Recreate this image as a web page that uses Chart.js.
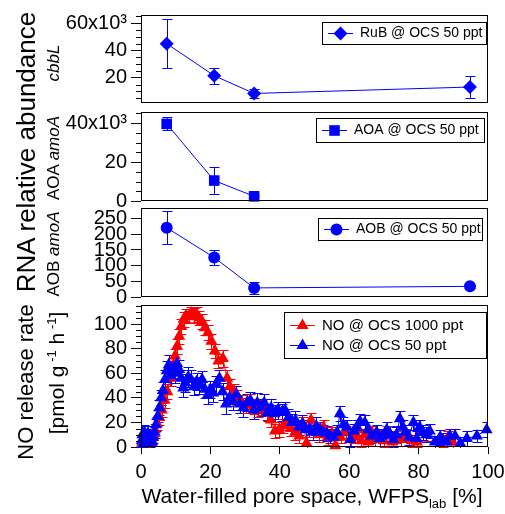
<!DOCTYPE html>
<html lang="en">
<head>
<meta charset="utf-8" />
<title>RNA abundance and NO release vs. WFPS</title>
<script src="https://cdn.jsdelivr.net/npm/chart.js@4.4.0/dist/chart.umd.min.js"></script>
<style>
  html, body { margin: 0; padding: 0; background: #fff; overflow: hidden; }
  #fig { position: relative; width: 505px; height: 514px; overflow: hidden;
         font-family: "Liberation Sans", Arial, Helvetica, sans-serif; color: #000; }
  #fig canvas { position: absolute; left: 0; }
  .lab { position: absolute; white-space: nowrap; line-height: 1;
         transform: translate(-50%, -50%) rotate(-90deg); }
  .xlab { position: absolute; white-space: nowrap; line-height: 1; transform: translate(-50%, -50%); }
  sup, sub { font-size: 0.62em; line-height: 0; }
</style>
</head>
<body>
<div id="fig">
  <canvas id="panelA" width="540" height="140" style="top:-10px"></canvas>
  <canvas id="panelB" width="540" height="140" style="top:85px"></canvas>
  <canvas id="panelC" width="540" height="140" style="top:180px"></canvas>
  <canvas id="panelD" width="540" height="234" style="top:280px"></canvas>

  <div class="lab" style="left:26px; top:152px; font-size:26px">RNA relative abundance</div>
  <div class="lab" style="left:53px; top:63px; font-size:17px"><i>cbbL</i></div>
  <div class="lab" style="left:53px; top:158px; font-size:17px">AOA <i>amoA</i></div>
  <div class="lab" style="left:53px; top:254px; font-size:17px">AOB <i>amoA</i></div>
  <div class="lab" style="left:26px; top:382px; font-size:22px">NO release rate</div>
  <div class="lab" style="left:56px; top:373px; font-size:21px">[pmol g<sup> -1</sup> h<sup> -1</sup>]</div>
  <div class="xlab" style="left:312px; top:495px; font-size:21px">Water-filled pore space, WFPS<sub>lab</sub> [%]</div>
</div>

<script>
// --- gene expression (panels a-c) ---
const wfpsGenes = [7.4, 21.1, 32.6, 94.8];
const cbbL = [45000, 21500, 8500, 13200];
const cbbLErr = [18000, 6000, 3000, 8000];

const wfpsAoa = [7.4, 21.1, 32.6];
const aoaAmoA = [39600, 10500, 2400];
const aoaAmoAErr = [3300, 7000, 600];

const aobAmoA = [221, 126, 29, 34];
const aobAmoAErr = [53, 25, 19, 5];

// --- NO release (panel d) ---
const wfpsNo1000 = [0.3, 0.7, 1.1, 1.5, 2.0, 2.5, 3.0, 3.5, 4.0, 4.6, 5.3, 6.0, 6.8, 7.6, 8.4, 9.2, 9.8,
  10.4, 11.0, 11.6, 12.3, 13.0, 13.8, 14.5, 15.2, 16.0, 16.8, 17.6, 18.4, 19.3, 20.3, 21.3, 22.3, 23.6,
  24.8, 25.6, 26.8, 27.8, 29.0, 30.2, 31.4, 32.6, 33.8, 35.0, 36.2, 37.4, 38.6, 39.8, 41.0, 42.0, 43.2,
  44.4, 45.6, 46.8, 47.7, 49.0, 50.2, 51.4, 52.6, 53.8, 55.0, 56.0, 57.5, 59.0, 60.5, 61.5, 62.5, 63.5,
  64.5, 65.5, 66.5, 67.5, 68.5, 70.0, 71.0, 72.5, 73.5, 75.0, 76.5, 78.0, 79.5, 87.0, 88.5, 89.8];
const no1000 = [3, 5, 2, 6, 4, 8, 6, 10, 14, 19, 24, 30, 38, 45, 56, 66, 74,
  82, 90, 98, 104, 107, 106, 109, 107, 108, 105, 102, 97, 93, 86, 78, 70, 72,
  56, 49, 45, 40, 36, 34, 37, 33, 30, 32, 28, 22, 13, 14, 17, 20, 15,
  12, 9, 18, 3, 22, 14, 10, 16, 8, 11, 1, 8, 12, 6, 8, 14, 5,
  10, 4, 12, 6, 9, 5, 12, 4, 8, 6, 10, 5, 4, 5, 8, 4];
const no1000Err = [3, 3, 3, 4, 3, 4, 4, 4, 5, 5, 6, 6, 6, 6, 6, 6, 6,
  6, 6, 6, 6, 5, 5, 5, 6, 6, 6, 6, 6, 6, 6, 6, 6, 7,
  7, 6, 6, 6, 6, 6, 6, 6, 6, 6, 6, 6, 6, 6, 6, 6, 6,
  6, 6, 6, 5, 6, 6, 6, 6, 6, 5, 5, 5, 5, 5, 5, 5, 5,
  5, 5, 5, 5, 5, 5, 5, 5, 5, 5, 5, 5, 4, 5, 5, 5];

const wfpsNo50 = [0.2, 0.4, 0.6, 0.8, 1.0, 1.2, 1.4, 1.6, 1.8, 2.0, 2.3, 2.6, 2.9, 3.2, 3.5, 3.9, 4.3,
  4.8, 5.3, 5.8, 6.3, 6.9, 7.4, 8.0, 8.6, 9.2, 9.8, 10.4, 11.0, 11.6, 12.2, 12.8, 13.6, 14.4, 15.2,
  16.0, 16.8, 17.6, 18.4, 19.2, 20.0, 20.8, 21.6, 22.6, 23.5, 24.5, 25.5, 26.5, 27.5, 28.5, 29.5,
  30.5, 31.5, 32.5, 33.5, 34.5, 35.5, 36.5, 37.5, 38.5, 39.5, 40.5, 41.5, 42.5, 43.5, 44.5, 45.5,
  46.5, 47.5, 48.5, 49.5, 50.5, 51.5, 52.5, 53.5, 54.5, 55.5, 56.5, 57.3, 58.3, 59.3, 60.3, 61.3,
  62.3, 63.1, 64.5, 65.5, 66.4, 67.9, 68.8, 69.8, 70.8, 71.7, 72.7, 73.6, 74.6, 75.5, 76.1, 77.2,
  78.5, 79.4, 80.3, 81.2, 82.2, 83.2, 84.7, 86.2, 87.0, 88.1, 89.0, 90.5, 92.0, 93.9, 96.8, 99.6];
const no50 = [5, 10, 2, 8, 12, 4, 9, 6, 3, 11, 7, 5, 9, 4, 8, 12, 18,
  25, 32, 40, 46, 55, 62, 67, 58, 64, 60, 68, 63, 56, 48, 52, 57, 55, 49,
  53, 50, 55, 47, 42, 47, 44, 51, 56, 45, 35, 40, 37, 43, 35, 32,
  36, 38, 30, 36, 32, 36, 28, 32, 27, 30, 28, 30, 24, 20, 22, 16,
  19, 14, 15, 12, 17, 14, 12, 11, 9, 8, 12, 27, 18, 16, 6, 13,
  16, 21, 20, 14, 9, 12, 7, 9, 14, 11, 6, 10, 23, 16, 12, 8,
  20, 7, 16, 12, 10, 13, 4, 8, 5, 4, 9, 9, 3, 7, 9, 14];
const no50Err = [8, 7, 6, 7, 6, 6, 6, 6, 6, 6, 6, 5, 6, 5, 5, 5, 5,
  5, 6, 6, 7, 8, 8, 8, 8, 8, 8, 8, 8, 7, 7, 7, 8, 8, 7,
  7, 7, 7, 7, 7, 7, 7, 7, 7, 7, 8, 7, 7, 7, 7, 8,
  7, 7, 7, 8, 7, 7, 7, 7, 7, 7, 7, 7, 7, 7, 7, 6,
  7, 6, 7, 6, 7, 6, 6, 6, 6, 6, 6, 6, 6, 6, 6, 6,
  6, 6, 6, 6, 6, 6, 6, 6, 6, 6, 6, 6, 6, 6, 6, 6,
  6, 6, 6, 6, 6, 6, 5, 6, 6, 5, 6, 6, 5, 6, 5, 6];

// --- axis ticks ---
const xTicks = [0, 20, 40, 60, 80, 100];
const ticksA = [20000, 40000, 60000], labelsA = ['20', '40', '60x10³'];
const ticksB = [0, 20000, 40000], labelsB = ['0', '20', '40x10³'];
const ticksC = [0, 50, 100, 150, 200, 250], labelsC = ['0', '50', '100', '150', '200', '250'];
const ticksD = [0, 20, 40, 60, 80, 100], labelsD = ['0', '20', '40', '60', '80', '100'];

Chart.defaults.font.family = '"Liberation Sans", Arial, Helvetica, sans-serif';
Chart.defaults.font.size = 20;
Chart.defaults.color = '#000';

const BLUE = '#0000ff', RED = '#ff0000';

// frame, minor ticks, error bars and the boxed legend
const decor = {
  id: 'decor',
  beforeDatasetsDraw(chart) {
    const ctx = chart.ctx, ys = chart.scales.y, ca = chart.chartArea;
    ctx.save();
    ctx.beginPath();
    ctx.rect(ca.left, ca.top - 1, ca.right - ca.left, ca.bottom - ca.top + 2);
    ctx.clip();
    // drawn from the back so the top dataset keeps its bars on top
    [...chart.data.datasets].map((ds, i) => [ds, i]).reverse().forEach(([ds, i]) => {
      if (!ds.errors) return;
      const meta = chart.getDatasetMeta(i);
      const cap = ds.capHalf;
      ctx.strokeStyle = ds.borderColor;
      ctx.lineWidth = 1;
      ctx.beginPath();
      meta.data.forEach((pt, j) => {
        const v = ds.data[j].y, e = ds.errors[j];
        const top = Math.round(ys.getPixelForValue(v + e)) + 0.5;
        const bot = Math.round(ys.getPixelForValue(v - e)) + 0.5;
        const x = Math.round(pt.x) + 0.5;
        ctx.moveTo(x, top); ctx.lineTo(x, bot);
        ctx.moveTo(x - cap, top); ctx.lineTo(x + cap, top);
        ctx.moveTo(x - cap, bot); ctx.lineTo(x + cap, bot);
      });
      ctx.stroke();
    });
    ctx.restore();
  },
  afterDraw(chart, args, opts) {
    const ctx = chart.ctx, ca = chart.chartArea, ys = chart.scales.y;
    ctx.save();
    ctx.strokeStyle = '#000';
    ctx.lineWidth = 1;
    ctx.strokeRect(Math.round(ca.left) + 0.5, Math.round(ca.top) + 0.5,
      Math.round(ca.right - ca.left) - 1, Math.round(ca.bottom - ca.top) - 1);

    if (opts.minorStep) {
      const majors = ys.ticks.map(t => t.value);
      ctx.beginPath();
      for (let v = Math.ceil(ys.min / opts.minorStep) * opts.minorStep; v <= ys.max; v += opts.minorStep) {
        if (majors.includes(v)) continue;
        const py = Math.round(ys.getPixelForValue(v)) + 0.5;
        ctx.moveTo(ca.left - 5, py); ctx.lineTo(ca.left, py);
      }
      ctx.stroke();
    }

    const L = opts.legend;
    if (L) {
      const x0 = Math.round(ca.left + L.dx), y0 = Math.round(ca.top + L.dy);
      ctx.fillStyle = '#fff';
      ctx.fillRect(x0, y0, L.w, L.h);
      ctx.strokeRect(x0 + 0.5, y0 + 0.5, L.w, L.h);
      const n = chart.data.datasets.length;
      chart.data.datasets.forEach((ds, i) => {
        const yy = Math.round(y0 + (L.h - (n - 1) * L.gap) / 2 + i * L.gap) + 0.5;
        ctx.strokeStyle = ds.borderColor;
        ctx.beginPath();
        ctx.moveTo(x0 + 6, yy); ctx.lineTo(x0 + 31, yy);
        ctx.stroke();
        ctx.fillStyle = ds.pointBackgroundColor;
        Chart.helpers.drawPoint(ctx, { pointStyle: ds.pointStyle, radius: ds.pointRadius, rotation: 0, borderWidth: 0 }, x0 + 18.5, yy);
        ctx.fillStyle = '#000';
        ctx.font = L.font + 'px "Liberation Sans", Arial, sans-serif';
        ctx.textBaseline = 'middle';
        ctx.textAlign = 'left';
        ctx.fillText(ds.label, x0 + 38, yy);
      });
    }
    ctx.restore();
  }
};

function series(label, xs, ys, errs, color, style, radius, cap, order) {
  return {
    label: label,
    data: xs.map((x, i) => ({ x: x, y: ys[i] })),
    errors: errs,
    capHalf: cap,
    order: order || 0,
    borderColor: color,
    backgroundColor: color,
    pointBackgroundColor: color,
    borderWidth: 1,
    pointStyle: style,
    pointRadius: radius,
    pointHoverRadius: radius,
    pointBorderWidth: 0,
    fill: false,
    tension: 0,
    clip: false
  };
}

function xAxis(show) {
  return {
    type: 'linear', min: 0, max: 100, display: show,
    afterBuildTicks: s => { s.ticks = xTicks.map(v => ({ value: v })); },
    afterFit: s => { if (show) s.height = 40; },
    ticks: { autoSkip: false, maxRotation: 0, padding: 6, callback: v => String(v) },
    grid: { drawOnChartArea: false, tickLength: 7, color: '#000', lineWidth: 1 },
    border: { display: false }
  };
}

function yAxis(min, max, vals, labels) {
  return {
    type: 'linear', min: min, max: max,
    afterBuildTicks: s => { s.ticks = vals.map(v => ({ value: v })); },
    afterFit: s => { s.width = 141; },
    ticks: { autoSkip: false, padding: 4, callback: v => labels[vals.indexOf(v)] },
    grid: { drawOnChartArea: false, tickLength: 10, color: '#000', lineWidth: 1 },
    border: { display: false }
  };
}

function panel(id, datasets, y, showX, padding, legend, minorStep) {
  return new Chart(document.getElementById(id), {
    type: 'line',
    data: { datasets: datasets },
    options: {
      responsive: false,
      animation: false,
      devicePixelRatio: 1,
      layout: { padding: padding },
      scales: { x: xAxis(showX), y: y },
      plugins: {
        legend: { display: false },
        tooltip: { enabled: false },
        decor: { legend: legend, minorStep: minorStep }
      }
    },
    plugins: [decor]
  });
}

panel('panelA',
  [series('RuB @ OCS 50 ppt', wfpsGenes, cbbL, cbbLErr, BLUE, 'rectRot', 7, 5)],
  yAxis(1500, 66000, ticksA, labelsA), false,
  { top: 25, bottom: 27, left: 0, right: 52 },
  { dx: 181, dy: 7, w: 164, h: 22, gap: 0, font: 14 }, 5000);

panel('panelB',
  [series('AOA @ OCS 50 ppt', wfpsAoa, aoaAmoA, aoaAmoAErr, BLUE, 'rect', 7.5, 5)],
  yAxis(0, 45700, ticksB, labelsB), false,
  { top: 27, bottom: 24, left: 0, right: 52 },
  { dx: 175, dy: 6, w: 168, h: 24, gap: 0, font: 14 }, 5000);

panel('panelC',
  [series('AOB @ OCS 50 ppt', wfpsGenes, aobAmoA, aobAmoAErr, BLUE, 'circle', 6, 5)],
  yAxis(0, 284, ticksC, labelsC), false,
  { top: 28, bottom: 23, left: 0, right: 52 },
  { dx: 177, dy: 10, w: 164, h: 22, gap: 0, font: 14 }, null);

panel('panelD',
  [series('NO @ OCS 1000 ppt', wfpsNo1000, no1000, no1000Err, RED, 'triangle', 7, 5, 1),
   series('NO @ OCS 50 ppt', wfpsNo50, no50, no50Err, BLUE, 'triangle', 7, 5, 0)],
  yAxis(0, 115.5, ticksD, labelsD), true,
  { top: 25, bottom: 27, left: 0, right: 52 },
  { dx: 143, dy: 7, w: 202, h: 46, gap: 20, font: 15 }, 5);
</script>
</body>
</html>
